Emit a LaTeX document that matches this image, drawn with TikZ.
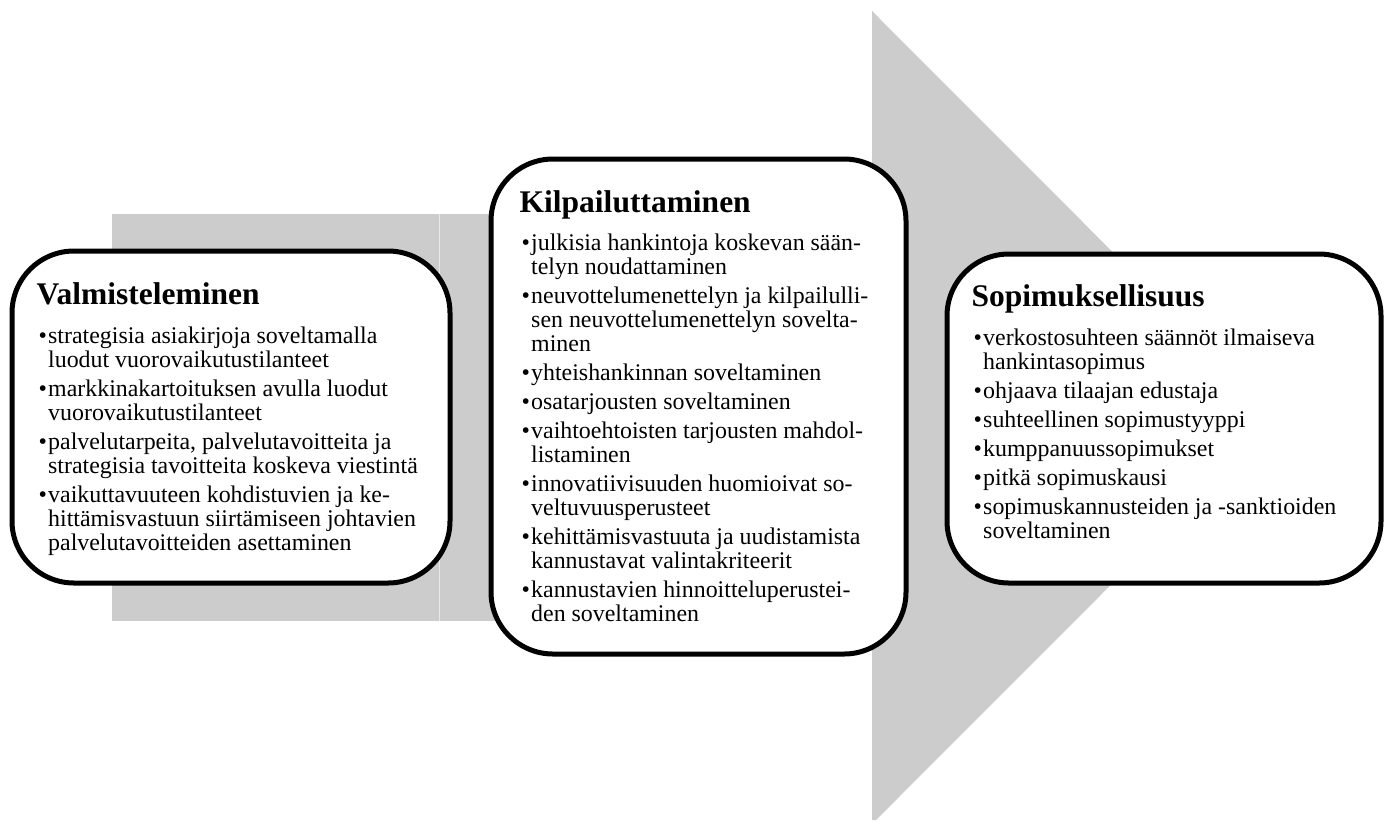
\documentclass[tikz,border=0pt]{standalone}
\usepackage{fontspec}
\setmainfont{Liberation Serif}
\definecolor{arrowgray}{HTML}{CCCCCC}
\definecolor{seamgray}{HTML}{E9E9E9}
\newcommand\bul{\makebox[9.5pt][l]{\textbullet}}
\begin{document}
\begin{tikzpicture}[x=1pt,y=-1pt,
  phasebox/.style={draw=black, line width=5pt, fill=white, rounded corners=62pt, inner sep=0pt},
  heading/.style={anchor=base west, inner sep=0pt, font=\bfseries\fontsize{31.5}{34}\selectfont},
  itemlist/.style={anchor=base west, inner sep=0pt, align=left, font=\fontsize{23.9}{24}\selectfont},
  seam/.style={draw=seamgray, line width=1pt}]
\useasboundingbox (0,0) rectangle (1391,820);

% large background arrow: shaft and head
\fill[arrowgray] (112,214) rectangle (873,621);
\fill[arrowgray] (872,11) -- (1278,417.5) -- (876,820) -- (872,820) -- cycle;
\draw[seam] (439,214) -- (439,621);

% phase 1
\node[phasebox, minimum width=438pt, minimum height=332pt] (valm) at (231,417) {};
\node[heading] (valmT) at (36.5,304) {Valmisteleminen};
\node[itemlist] (valmL) at (38.5,343) {\begin{tabular}[t]{@{}l@{}l@{}}
\bul & strategisia asiakirjoja soveltamalla\\
     & luodut vuorovaikutustilanteet\\[5pt]
\bul & markkinakartoituksen avulla luodut\\
     & vuorovaikutustilanteet\\[5pt]
\bul & palvelutarpeita, palvelutavoitteita ja\\
     & strategisia tavoitteita koskeva viestintä\\[5pt]
\bul & vaikuttavuuteen kohdistuvien ja ke-\\
     & hittämisvastuun siirtämiseen johtavien\\
     & palvelutavoitteiden asettaminen
\end{tabular}};

% phase 2
\node[phasebox, minimum width=415pt, minimum height=495pt] (kilp) at (698.5,406.5) {};
\node[heading] (kilpT) at (519.5,212) {Kilpailuttaminen};
\node[itemlist] (kilpL) at (521.5,250) {\begin{tabular}[t]{@{}l@{}l@{}}
\bul & julkisia hankintoja koskevan sään-\\
     & telyn noudattaminen\\[5pt]
\bul & neuvottelumenettelyn ja kilpailulli-\\
     & sen neuvottelumenettelyn sovelta-\\
     & minen\\[5pt]
\bul & yhteishankinnan soveltaminen\\[5pt]
\bul & osatarjousten soveltaminen\\[5pt]
\bul & vaihtoehtoisten tarjousten mahdol-\\
     & listaminen\\[5pt]
\bul & innovatiivisuuden huomioivat so-\\
     & veltuvuusperusteet\\[5pt]
\bul & kehittämisvastuuta ja uudistamista\\
     & kannustavat valintakriteerit\\[5pt]
\bul & kannustavien hinnoitteluperustei-\\
     & den soveltaminen
\end{tabular}};

% phase 3
\node[phasebox, minimum width=434pt, minimum height=329pt] (sopi) at (1164,418.5) {};
\node[heading] (sopiT) at (971.5,306) {Sopimuksellisuus};
\node[itemlist] (sopiL) at (973.5,345) {\begin{tabular}[t]{@{}l@{}l@{}}
\bul & verkostosuhteen säännöt ilmaiseva\\
     & hankintasopimus\\[5pt]
\bul & ohjaava tilaajan edustaja\\[5pt]
\bul & suhteellinen sopimustyyppi\\[5pt]
\bul & kumppanuussopimukset\\[5pt]
\bul & pitkä sopimuskausi\\[5pt]
\bul & sopimuskannusteiden ja -sanktioiden\\
     & soveltaminen
\end{tabular}};
\end{tikzpicture}
\end{document}
